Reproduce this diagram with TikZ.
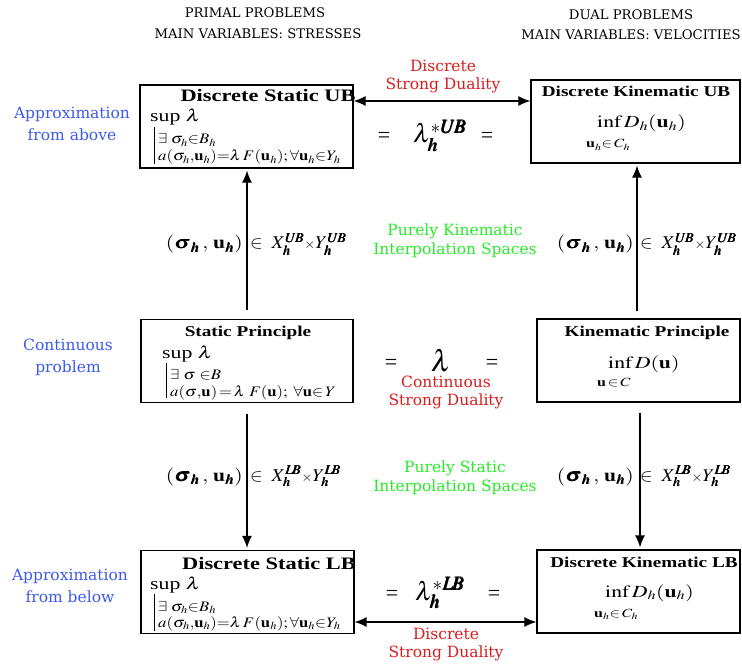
\documentclass[tikz,border=0pt]{standalone}
\usepackage{amsmath}
\usepackage{mathptmx}
\usepackage{bm}
\usepackage[no-math]{fontspec}
\setmainfont{Liberation Serif}
\newfontfamily\cent{DejaVu Serif}
\usetikzlibrary{arrows.meta}
\definecolor{cblue}{RGB}{60,90,235}
\definecolor{cred}{RGB}{215,30,30}
\definecolor{cgreen}{RGB}{40,235,40}
\newcommand\bu{\mathbf{u}}
\newcommand\bh{\bm{h}}
\newcommand\bUB{\bm{U\!B}}
\newcommand\bLB{\bm{L\!B}}
\newcommand\W[1]{\scalebox{1.28}[1]{#1}}
\newcommand\Wf[1]{\scalebox{1.15}[1]{#1}}
\newcommand\We[1]{\scalebox{1.2}[1]{#1}}
\newcommand\sx{{\scriptstyle\times}}
\begin{document}
\begin{tikzpicture}[x=1pt,y=-1pt,
  box/.style={draw, line width=1.3pt, minimum width=#1, minimum height=83, inner sep=0},
  ttl/.style={font=\fontsize{17.5}{19}\selectfont\bfseries, anchor=base, inner sep=0},
  ttls/.style={font=\fontsize{15}{17}\selectfont\bfseries, anchor=base, inner sep=0},
  hd/.style={font=\fontsize{13.2}{15}\selectfont\cent, inner sep=0},
  side/.style={font=\fontsize{15.5}{22}\selectfont\cent, text=cblue, align=center, inner sep=0},
  dual/.style={font=\fontsize{15.5}{18}\selectfont\cent, text=cred, align=center, inner sep=0},
  interp/.style={font=\fontsize{15.5}{19}\selectfont\cent, text=cgreen, align=center, inner sep=0},
  frm/.style={font=\fontsize{14.5}{16}\selectfont, anchor=base west, inner sep=0},
  subf/.style={font=\fontsize{12.5}{14}\selectfont, anchor=base west, inner sep=0},
  big/.style={font=\fontsize{17}{19}\selectfont, anchor=base west, inner sep=0},
  elab/.style={font=\fontsize{18}{20}\selectfont, inner sep=0},
  mid/.style={font=\fontsize{22}{24}\selectfont, anchor=base, inner sep=0},
  arr/.style={line width=1.2pt, -{Latex[length=12pt,width=10pt]}},
  darr/.style={line width=1.2pt, {Latex[length=12pt,width=10pt]}-{Latex[length=12pt,width=10pt]}}]
\useasboundingbox (0,0) rectangle (742,668);

% headers
\node[hd] (h1) at (255,13) {PRIMAL PROBLEMS};
\node[hd] (h2) at (258,34) {MAIN VARIABLES: STRESSES};
\node[hd] (h3) at (631,15) {DUAL PROBLEMS};
\node[hd] (h4) at (631,35) {MAIN VARIABLES: VELOCITIES};

% boxes
\node[box=213] (sub) at (246.5,126.5) {};
\node[box=209] (kub) at (635.5,121.5) {};
\node[box=212] (sp)  at (247,361) {};
\node[box=203] (kp)  at (638.5,360.5) {};
\node[box=213] (slb) at (247.5,592) {};
\node[box=203] (klb) at (638.5,591.5) {};

% Static UB content
\node[ttl] (t1) at (268,102) {\W{Discrete Static UB}};
\node[big] (s1) at (150,122) {\W{sup $\lambda$}};
\draw[line width=0.8pt] (154,127) -- (154,164);
\node[frm] (s1a) at (158,144) {\Wf{$\exists\;\sigma_h{\in} B_h$}};
\node[frm] (s1b) at (158,161) {\Wf{$a(\sigma_h{,}\bu_h){=}\lambda\,F(\bu_h);{\forall}\bu_h{\in} Y_h$}};

% Kinematic UB content
\node[ttls] (t2) at (636,97) {\W{Discrete Kinematic UB}};
\node[big] (k1) at (597,128) {\W{$\inf D_h(\bu_h)$}};
\node[subf] (k1a) at (586,148) {\W{$\bu_h{\in}\,C_h$}};

% Static principle
\node[ttls] (t3) at (248,337) {\W{Static Principle}};
\node[big] (s2) at (162,359) {\W{sup $\lambda$}};
\draw[line width=0.8pt] (166,363) -- (166,398);
\node[frm] (s2a) at (170,380) {\Wf{$\exists\ \sigma\ {\in} B$}};
\node[frm] (s2b) at (170,396) {\Wf{$a(\sigma{,}\bu)\,{=}\,\lambda\ F(\bu);\ \forall\bu{\in}\,Y$}};

% Kinematic principle
\node[ttls] (t4) at (647,337) {\W{Kinematic Principle}};
\node[big] (k2) at (608,369) {\W{$\inf D(\bu)$}};
\node[subf] (k2a) at (597,387) {\W{$\bu\,{\in}\,C$}};

% Static LB
\node[ttl] (t5) at (269,569) {\W{Discrete Static LB}};
\node[big] (s3) at (150,589) {\W{sup $\lambda$}};
\draw[line width=0.8pt] (154,594) -- (154,631);
\node[frm] (s3a) at (158,611) {\Wf{$\exists\;\sigma_h{\in} B_h$}};
\node[frm] (s3b) at (158,627) {\Wf{$a(\sigma_h{,}\bu_h){=}\lambda\,F(\bu_h);{\forall}\bu_h{\in} Y_h$}};

% Kinematic LB
\node[ttls] (t6) at (644,567) {\W{Discrete Kinematic LB}};
\node[big] (k3) at (605,597) {\W{$\inf D_h(\bu_h)$}};
\node[subf] (k3a) at (594,617) {\W{$\bu_h{\in}\,C_h$}};

% side labels
\node[side] (a1) at (72,124) {Approximation\\from above};
\node[side] (a2) at (68,357) {Continuous\\problem};
\node[side] (a3) at (70,586) {Approximation\\from below};

% middle column
\node[mid] (e1) at (384,143) {=};
\node[mid, font=\fontsize{26}{28}\selectfont] (l1) at (440,143) {$\lambda_{\bh}^{*\bUB}$};
\node[mid] (e2) at (487,143) {=};
\node[mid] (e3) at (391,370) {=};
\node[mid, font=\fontsize{30}{32}\selectfont] (l2) at (441,371) {$\lambda$};
\node[mid] (e4) at (492,370) {=};
\node[mid] (e5) at (392,600) {=};
\node[mid, font=\fontsize{26}{28}\selectfont] (l3) at (440,600) {$\lambda_{\bh}^{*\bLB}$};
\node[mid] (e6) at (494,600) {=};

\node[dual] (d1) at (443,77) {Discrete\\Strong Duality};
\node[dual] (d2) at (446,392) {Continuous\\Strong Duality};
\node[dual] (d3) at (446,645) {Discrete\\Strong Duality};
\node[interp] (g1) at (455,241) {Purely Kinematic\\Interpolation Spaces};
\node[interp] (g2) at (455,478) {Purely Static\\Interpolation Spaces};

% connectors
\coordinate (y1) at (0,101);
\coordinate (y2) at (0,622);
\coordinate (x1) at (637,0);
\coordinate (x2) at (640,0);
\draw[darr] (sub.east |- y1) -- (kub.west |- y1);
\draw[darr] (slb.east |- y2) -- (klb.west |- y2);
\draw[arr, shorten <=9pt, shorten >=2pt] (sp.north) -- (sub.south -| sp.north);
\draw[arr, shorten <=7pt, shorten >=2pt] (kp.north -| x1) -- (kub.south -| x1);
\draw[arr, shorten <=11pt, shorten >=2pt] (sp.south) -- (slb.north -| sp.south);
\draw[arr, shorten <=10pt, shorten >=2pt] (kp.south -| x2) -- (klb.north -| x2);

% edge labels
\node[elab, anchor=base east] (p1) at (243,249) {\We{$(\bm{\sigma}_{\bh}\,,\,\bu_{\bh})$}};
\node[elab, anchor=base west] (q1) at (250,249) {\scalebox{1.05}[1]{$\in\ X_{\bh}^{\bUB}\sx Y_{\bh}^{\bUB}$}};
\node[elab, anchor=base east] (p2) at (634,249) {\We{$(\bm{\sigma}_{\bh}\,,\,\bu_{\bh})$}};
\node[elab, anchor=base west] (q2) at (640,249) {\scalebox{1.05}[1]{$\in\ X_{\bh}^{\bUB}\sx Y_{\bh}^{\bUB}$}};
\node[elab, anchor=base east] (p3) at (243,481) {\We{$(\bm{\sigma}_{\bh}\,,\,\bu_{\bh})$}};
\node[elab, anchor=base west] (q3) at (250,481) {\scalebox{1.05}[1]{$\in\ X_{\bh}^{\bLB}\sx Y_{\bh}^{\bLB}$}};
\node[elab, anchor=base east] (p4) at (634,481) {\We{$(\bm{\sigma}_{\bh}\,,\,\bu_{\bh})$}};
\node[elab, anchor=base west] (q4) at (640,481) {\scalebox{1.05}[1]{$\in\ X_{\bh}^{\bLB}\sx Y_{\bh}^{\bLB}$}};
\end{tikzpicture}
\end{document}
